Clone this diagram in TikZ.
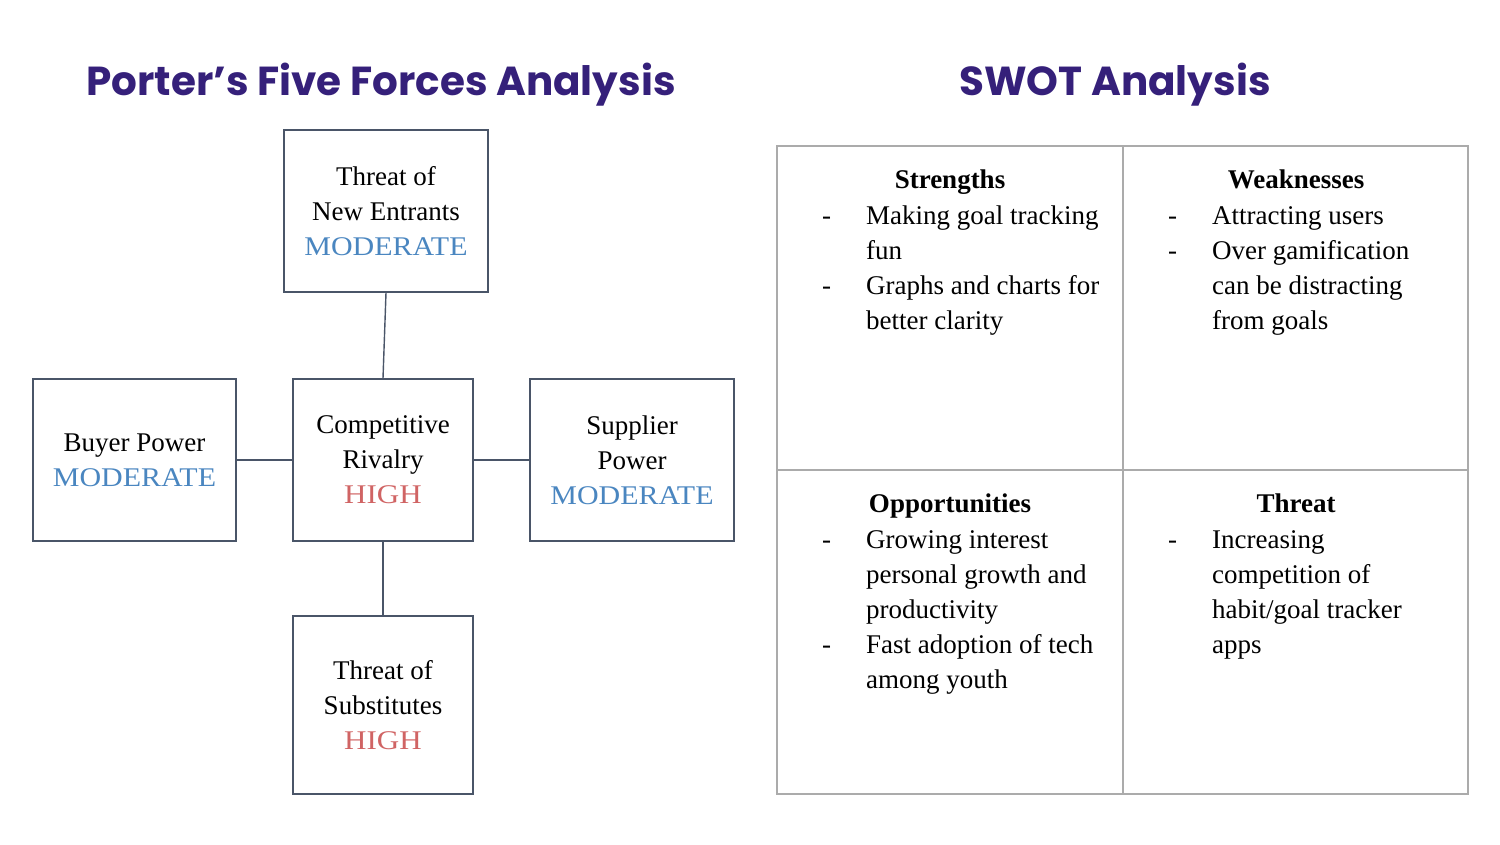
\documentclass[tikz,border=0pt]{standalone}
\usepackage{fontspec}
\setmainfont{Liberation Serif}
\newfontfamily\headfont{Poppins}
\definecolor{titlepurple}{HTML}{35207A}
\definecolor{modblue}{HTML}{4A86C0}
\definecolor{highred}{HTML}{D06464}
\definecolor{boxline}{HTML}{4A5568}
\definecolor{gridline}{HTML}{ABABAB}
\tikzset{
  titletxt/.style={font=\headfont\bfseries\fontsize{40.5}{48}\selectfont, text=titlepurple, anchor=base, inner sep=0},
  forcebox/.style={draw=boxline, line width=1.4pt, inner sep=0, align=center,
    font=\fontsize{27}{35}\selectfont},
  conn/.style={draw=boxline, line width=1.4pt},
  gridpen/.style={draw=gridline, line width=1.4pt},
  qhead/.style={font=\bfseries\fontsize{27}{35}\selectfont, anchor=base, inner sep=0},
  qlist/.style={font=\fontsize{27}{35}\selectfont, anchor=base west, inner sep=0},
}
% level words, set a little wider than the body text
\newcommand{\moder}{{\addfontfeature{FakeStretch=1.11}\textcolor{modblue}{MODERATE}}}
\newcommand{\highv}{{\addfontfeature{FakeStretch=1.15}\textcolor{highred}{HIGH}}}
\begin{document}
\begin{tikzpicture}[x=1pt, y=-1pt]
\useasboundingbox (0,0) rectangle (1500,844);

% titles
\node[titletxt] (pt) at (381,95) {Porter’s Five Forces Analysis};
\node[titletxt] (st) at (1115,95) {SWOT Analysis};

% five forces
\node[forcebox, minimum width=204pt, minimum height=162pt] (entr) at (386,211) {Threat of\\New Entrants\\\moder};
\node[forcebox, minimum width=203pt, minimum height=162pt] (buy) at (134.5,460) {Buyer Power\\\moder};
\node[forcebox, minimum width=180pt, minimum height=162pt] (riv) at (383,460) {Competitive\\Rivalry\\\highv};
\node[forcebox, minimum width=204pt, minimum height=162pt] (sup) at (632,460) {Supplier\\Power\\\moder};
\node[forcebox, minimum width=180pt, minimum height=178pt] (subs) at (383,705) {Threat of\\Substitutes\\\highv};

\draw[conn] (entr.south) -- (riv.north);
\draw[conn] (buy.east) -- (riv.west);
\draw[conn] (riv.east) -- (sup.west);
\draw[conn] (riv.south) -- (subs.north);

% SWOT grid
\draw[gridpen] (777,146) rectangle (1468,794);
\draw[gridpen] (1123,146) -- (1123,794);
\draw[gridpen] (777,470) -- (1468,470);

% quadrant headings
\node[qhead] (sh) at (950,188) {Strengths};
\node[qhead] (wh) at (1296,188) {Weaknesses};
\node[qhead] (oh) at (950,512) {Opportunities};
\node[qhead] (th) at (1296,512) {Threat};

% quadrant lists
\node[qlist] (sl) at (822,224) {\begin{tabular}[t]{@{}p{44pt}@{}l@{}}
- & Making goal tracking\\ & fun\\ - & Graphs and charts for\\ & better clarity\end{tabular}};
\node[qlist] (wl) at (1168,224) {\begin{tabular}[t]{@{}p{44pt}@{}l@{}}
- & Attracting users\\ - & Over gamification\\ & can be distracting\\ & from goals\end{tabular}};
\node[qlist] (ol) at (822,548) {\begin{tabular}[t]{@{}p{44pt}@{}l@{}}
- & Growing interest\\ & personal growth and\\ & productivity\\ - & Fast adoption of tech\\ & among youth\end{tabular}};
\node[qlist] (tl) at (1168,548) {\begin{tabular}[t]{@{}p{44pt}@{}l@{}}
- & Increasing\\ & competition of\\ & habit/goal tracker\\ & apps\end{tabular}};
\end{tikzpicture}
\end{document}
